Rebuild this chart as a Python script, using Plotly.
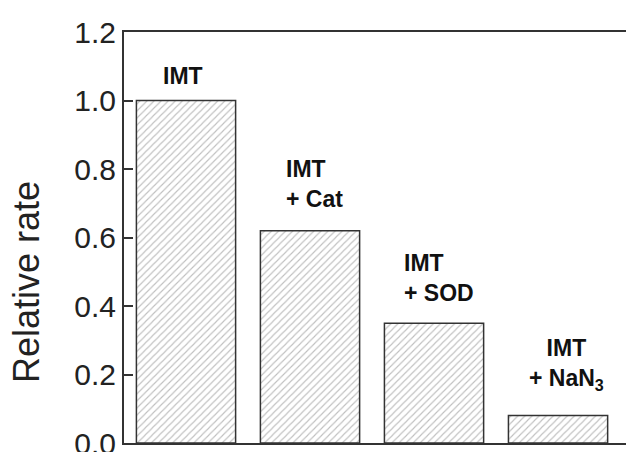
import plotly.graph_objects as go

categories = ["IMT", "IMT + Cat", "IMT + SOD", "IMT + NaN3"]
values = [1.0, 0.62, 0.35, 0.08]
labels = ["IMT", "IMT<br>+ Cat", "IMT<br>+ SOD", "IMT<br>+ NaN<sub>3</sub>"]
tick_vals = [0.0, 0.2, 0.4, 0.6, 0.8, 1.0, 1.2]
y_title = "Relative rate"

# label styling (offsets in pixels)
label_align = ["center", "left", "left", "center"]
label_xshift = [-3, 4, 5, 8]
label_yshift = [10, 17, 15, 20]

FONT = "Liberation Sans, Arial, sans-serif"
x_idx = list(range(len(categories)))

L, R, T, B, W, H = 124, 0, 32, 9, 626, 452

fig = go.Figure()
fig.add_trace(go.Bar(
    x=x_idx, y=values, width=0.8,
    marker=dict(
        color="white",
        line=dict(color="#333333", width=1.5),
        pattern=dict(shape="/", size=5, solidity=0.22, fgcolor="#808080", bgcolor="white"),
    ),
    hoverinfo="skip",
))

for i, (v, lab) in enumerate(zip(values, labels)):
    fig.add_annotation(
        x=x_idx[i], y=v, xref="x", yref="y", text="<b>" + lab + "</b>",
        showarrow=False, xanchor="center", yanchor="bottom",
        align=label_align[i], xshift=label_xshift[i], yshift=label_yshift[i],
        font=dict(family=FONT, size=23, color="#111111"),
    )

# y-axis title placed as an annotation (pixel centre 26, 282)
fig.add_annotation(
    x=(26 - L) / (W - L - R), y=(H - B - 282) / (H - B - T),
    xref="paper", yref="paper", text=y_title, showarrow=False,
    textangle=-90, xanchor="center", yanchor="middle",
    font=dict(family=FONT, size=36, color="#222222"),
)

fig.update_layout(
    width=W, height=H,
    margin=dict(l=L, r=R, t=T, b=B, autoexpand=False),
    paper_bgcolor="white", plot_bgcolor="white",
    showlegend=False,
)
fig.update_xaxes(
    range=[-0.5, 3.548], showticklabels=False, ticks="",
    showline=True, linecolor="#333333", linewidth=2, mirror=True,
    showgrid=False, zeroline=False, automargin=False,
)
fig.update_yaxes(
    range=[0, 1.2], tickvals=tick_vals, tickformat=".1f",
    ticks="inside", ticklen=9, tickwidth=1.5, tickcolor="#333333",
    showline=True, linecolor="#333333", linewidth=2, mirror=False,
    showgrid=False, zeroline=False, automargin=False,
    ticklabeloverflow="allow",
    tickfont=dict(family=FONT, size=30, color="#222222"),
)

fig.write_html(
    "out.html",
    config={"displayModeBar": False},
    post_script="document.body.style.margin='0';document.body.style.overflow='hidden';",
)
